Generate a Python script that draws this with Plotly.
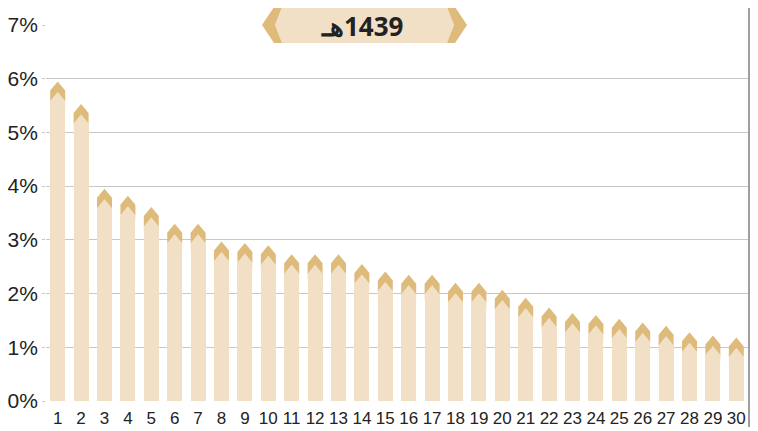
import plotly.graph_objects as go

days = list(range(1, 31))
shares = [5.95, 5.53, 3.95, 3.82, 3.61, 3.30, 3.30, 2.97, 2.94, 2.90,
          2.73, 2.73, 2.73, 2.55, 2.41, 2.35, 2.35, 2.20, 2.20, 2.07,
          1.92, 1.74, 1.64, 1.60, 1.53, 1.46, 1.40, 1.28, 1.22, 1.18]
y_ticks = [0, 1, 2, 3, 4, 5, 6, 7]
y_tick_labels = ["0%", "1%", "2%", "3%", "4%", "5%", "6%", "7%"]
title_text = "هـ\u200e1439"

LIGHT = "#F1E0C5"
GOLD = "#DEBA7B"
GRID = "#C8C8C8"

# the page body adds an 8px offset; figure sized to fit inside the body
W, H = 742, 419
ML, MR, MT, MB = 38, 2, 17, 26
Y_MAX = 7
px_per_unit = (H - MT - MB) / Y_MAX
BAR_W = 0.64
half = BAR_W / 2

# body of each bar stops under the pointed top
body = [v - 20 / px_per_unit for v in shares]

fig = go.Figure()
fig.add_trace(go.Bar(x=days, y=body, width=BAR_W, marker=dict(color=LIGHT, line=dict(width=0)),
                     hoverinfo="skip"))

shapes = []
for d, v in zip(days, shares):
    # light pointed top of the body
    shapes.append(dict(type="path", xref="x", yref="y", xsizemode="scaled", ysizemode="pixel",
                       yanchor=v, layer="above",
                       path=f"M {d-half},-26 L {d+half},-26 L {d+half},-19 L {d},-10.5 L {d-half},-19 Z",
                       fillcolor=LIGHT, line=dict(width=0)))
    # gold chevron
    shapes.append(dict(type="path", xref="x", yref="y", xsizemode="scaled", ysizemode="pixel",
                       yanchor=v, layer="above",
                       path=f"M {d-half},-9 L {d},0 L {d+half},-9 L {d+half},-19.5 L {d},-10.5 L {d-half},-19.5 Z",
                       fillcolor=GOLD, line=dict(width=0)))

# title badge (pixel sized, anchored on the top gridline)
plot_w = W - ML - MR
bx = (364.5 - 8 - ML) / plot_w
badge = dict(type="path", xref="paper", yref="paper", xsizemode="pixel", ysizemode="pixel",
             xanchor=bx, yanchor=1, layer="above", line=dict(width=0))
shapes.append(dict(badge, fillcolor=LIGHT,
                   path="M -82.5,18 L 82.5,18 L 89.5,0 L 82.5,-18 L -82.5,-18 L -89.5,0 Z"))
shapes.append(dict(badge, fillcolor=GOLD,
                   path="M -90.5,18 L -82.5,18 L -89.5,0 L -82.5,-18 L -90.5,-18 L -102.5,0 Z"))
shapes.append(dict(badge, fillcolor=GOLD,
                   path="M 90.5,18 L 82.5,18 L 89.5,0 L 82.5,-18 L 90.5,-18 L 102.5,0 Z"))
# right border line
rx = 1 + 1 / plot_w
shapes.append(dict(type="line", xref="paper", yref="paper", x0=rx, x1=rx, y0=-0.2, y1=1.2,
                   layer="above", line=dict(color="#9E9E9E", width=2)))

fig.add_annotation(xref="paper", yref="paper", x=(362 - 8 - ML) / plot_w, y=1, yshift=-1,
                   text=f"<b>{title_text}</b>", showarrow=False,
                   font=dict(family="Noto Sans", size=26, color="#222222"),
                   xanchor="center", yanchor="middle")

fig.update_layout(
    width=W, height=H,
    margin=dict(l=ML, r=MR, t=MT, b=MB, autoexpand=False),
    paper_bgcolor="white", plot_bgcolor="white",
    showlegend=False, bargap=0,
    shapes=shapes,
    font=dict(family="Liberation Sans", color="#222222"),
)
fig.update_xaxes(range=[0.5, 30.5], tickmode="array", tickvals=days, ticktext=[str(d) for d in days],
                 showgrid=False, zeroline=False, showline=False,
                 ticks="outside", ticklen=2, tickcolor="rgba(0,0,0,0)", automargin=False,
                 tickfont=dict(size=17, color="#222222"), fixedrange=True)
fig.update_yaxes(range=[0, Y_MAX], tickmode="array", tickvals=y_ticks, ticktext=y_tick_labels,
                 showgrid=True, gridcolor=GRID, gridwidth=1, zeroline=False, showline=False,
                 ticks="outside", ticklen=3, tickcolor=GRID, automargin=False,
                 tickfont=dict(size=21, color="#222222"), fixedrange=True)

fig.write_html("out.html")
